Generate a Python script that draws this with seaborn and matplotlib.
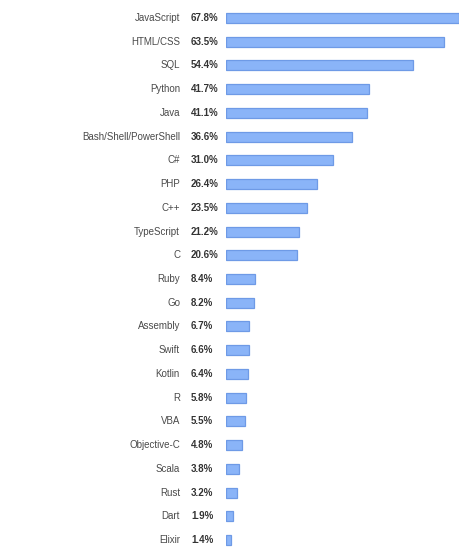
import pandas as pd
import matplotlib
matplotlib.use("Agg")
import matplotlib.pyplot as plt
import matplotlib.transforms as mtransforms
import seaborn as sns

languages = ["JavaScript", "HTML/CSS", "SQL", "Python", "Java", "Bash/Shell/PowerShell",
             "C#", "PHP", "C++", "TypeScript", "C", "Ruby", "Go", "Assembly", "Swift",
             "Kotlin", "R", "VBA", "Objective-C", "Scala", "Rust", "Dart", "Elixir"]
shares = [67.8, 63.5, 54.4, 41.7, 41.1, 36.6, 31.0, 26.4, 23.5, 21.2, 20.6, 8.4, 8.2,
          6.7, 6.6, 6.4, 5.8, 5.5, 4.8, 3.8, 3.2, 1.9, 1.4]

df = pd.DataFrame({"language": languages, "share": shares})

sns.set_style("white")
plt.rcParams["font.family"] = ["Liberation Sans", "DejaVu Sans"]

W, H = 474, 552
fig = plt.figure(figsize=(W / 100, H / 100), dpi=100)
ax = fig.add_axes([226 / W, 0.0, 233 / W, 546 / H])

sns.barplot(data=df, x="share", y="language", orient="h", color="#8ab4f8",
            saturation=1, width=0.42, edgecolor="#6e9ae6", linewidth=0.9, ax=ax)

ax.set_xlim(0, 67.8)
ax.set_ylim(len(languages) - 0.5, -0.5)
ax.set_xticks([])
ax.set_yticks([])
ax.set_xlabel("")
ax.set_ylabel("")
sns.despine(ax=ax, left=True, bottom=True)

# names and percentages sit left of the axes, x in figure fraction, y in data
label_tr = mtransforms.blended_transform_factory(fig.transFigure, ax.transData)
for i, (lang, val) in enumerate(zip(languages, shares)):
    ax.text(180 / W, i, lang, transform=label_tr, ha="right", va="center",
            fontsize=7, color="#4a4a4a")
    ax.text(191 / W, i, f"{val:.1f}%", transform=label_tr, ha="left", va="center",
            fontsize=7, fontweight="bold", color="#333333")

fig.savefig("out.png", dpi=100, facecolor="white")
